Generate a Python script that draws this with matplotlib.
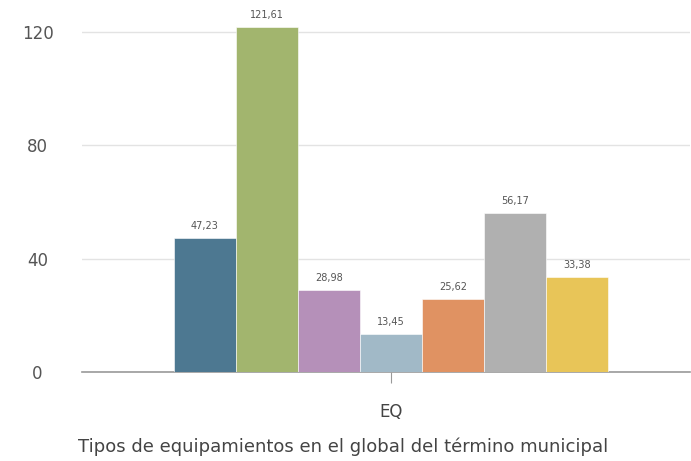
import matplotlib
matplotlib.use("Agg")
import matplotlib.pyplot as plt
import numpy as np

categories = ["EQ"]
series_values = [47.23, 121.61, 28.98, 13.45, 25.62, 56.17, 33.38]
value_labels = ["47,23", "121,61", "28,98", "13,45", "25,62", "56,17", "33,38"]
colors = ["#4d7891", "#a2b56e", "#b590b9", "#a1b9c7", "#e09262", "#b0b0b0", "#e8c558"]
yticks = [0, 40, 80, 120]
title = "Tipos de equipamientos en el global del término municipal"

W, H = 691, 461
fig = plt.figure(figsize=(W / 100, H / 100), dpi=100)
ymax = 128
px_per = 340 / 120
top_px = 372 - ymax * px_per
ax = fig.add_axes([82 / W, 1 - 372 / H, (690 - 82) / W, (372 - top_px) / H])

n = len(series_values)
bw = 62 / 608
offsets = (np.arange(n) - (n - 1) / 2) * bw
for i, (v, lab, c) in enumerate(zip(series_values, value_labels, colors)):
    ax.bar(offsets[i], v, width=bw, color=c, edgecolor="white", linewidth=0.4, zorder=3)
    ax.text(offsets[i], v + 2.5, lab, ha="center", va="bottom", fontsize=7, color="#555555", zorder=4)

ax.set_xlim(-0.508, 0.492)
ax.set_ylim(0, ymax)
ax.set_yticks(yticks)
ax.set_xticks([0])
ax.set_xticklabels(categories)
ax.yaxis.grid(True, color="#e3e3e3", linewidth=1, zorder=0)
ax.set_axisbelow(True)
for s in ["top", "right", "left"]:
    ax.spines[s].set_visible(False)
ax.spines["bottom"].set_color("#999999")
ax.spines["bottom"].set_linewidth(1.2)
ax.tick_params(axis="y", length=0, labelsize=12, labelcolor="#555555", pad=32)
ax.tick_params(axis="x", length=8, color="#999999", labelsize=12, labelcolor="#444444", pad=14)
for t in ax.get_yticklabels():
    t.set_horizontalalignment("center")

fig.text(343 / W, 1 - 447 / H, title, ha="center", va="center", fontsize=13, color="#444444")

fig.savefig("out.png", dpi=100)
